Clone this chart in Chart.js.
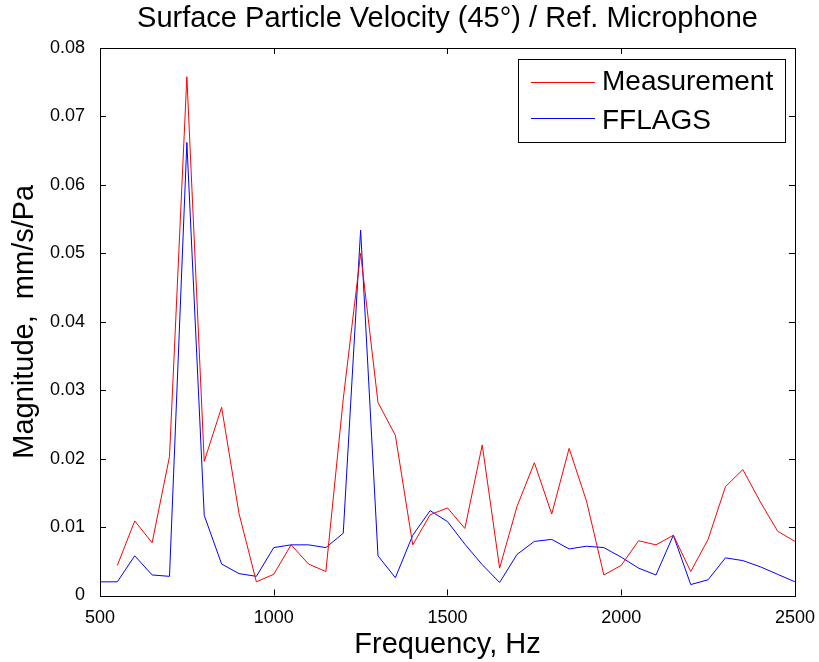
<!DOCTYPE html>
<html>
<head>
<meta charset="utf-8">
<script src="https://cdn.jsdelivr.net/npm/chart.js@4"></script>
<style>
  html, body { margin: 0; padding: 0; background: #fff; }
  #wrap { width: 819px; height: 662px; }
</style>
</head>
<body>
<div id="wrap"><canvas id="chart" width="819" height="662"></canvas></div>
<script>
/* frequency steps, Hz */
const freqs = [500, 550, 600, 650, 700, 750, 800, 850, 900, 950,
  1000, 1050, 1100, 1150, 1200, 1250, 1300, 1350, 1400, 1450,
  1500, 1550, 1600, 1650, 1700, 1750, 1800, 1850, 1900, 1950,
  2000, 2050, 2100, 2150, 2200, 2250, 2300, 2350, 2400, 2450, 2500];

const measurement = [null, 0.0044, 0.0109, 0.0077, 0.0203, 0.0758, 0.0196, 0.0275, 0.0120, 0.0020,
  0.0031, 0.0074, 0.0046, 0.0035, 0.0287, 0.0500, 0.0282, 0.0234, 0.0074, 0.0118,
  0.0128, 0.0098, 0.0220, 0.0040, 0.0130, 0.0194, 0.0119, 0.0215, 0.0138, 0.0030,
  0.0044, 0.0080, 0.0074, 0.0088, 0.0035, 0.0082, 0.0159, 0.0184, 0.0137, 0.0094, 0.0079];

const fflags = [0.0020, 0.0020, 0.0058, 0.0030, 0.0028, 0.0662, 0.0117, 0.0046, 0.0032, 0.0028,
  0.0070, 0.0074, 0.0074, 0.0070, 0.0091, 0.0534, 0.0058, 0.0026, 0.0088, 0.0124,
  0.0108, 0.0075, 0.0045, 0.0019, 0.0060, 0.0079, 0.0082, 0.0068, 0.0072, 0.0070,
  0.0056, 0.0040, 0.0030, 0.0088, 0.0016, 0.0023, 0.0055, 0.0051, 0.0042, 0.0031, 0.0020];

const xTicks = [500, 1000, 1500, 2000, 2500];
const yTicks = [0, 0.01, 0.02, 0.03, 0.04, 0.05, 0.06, 0.07, 0.08];

const FONT = 'Liberation Sans, Arial, sans-serif';

function toPoints(ys) {
  return freqs.map((f, i) => ({ x: f, y: ys[i] }));
}

/* box around plot area with inward tick marks, like the original */
const frameTicks = {
  id: 'frameTicks',
  afterDatasetsDraw(chart) {
    const { ctx, chartArea: a, scales } = chart;
    const len = 6;
    ctx.save();
    ctx.strokeStyle = '#000';
    ctx.lineWidth = 1;
    ctx.beginPath();
    xTicks.forEach(v => {
      const px = Math.round(scales.x.getPixelForValue(v)) + 0.5;
      ctx.moveTo(px, a.bottom); ctx.lineTo(px, a.bottom - len);
      ctx.moveTo(px, a.top); ctx.lineTo(px, a.top + len);
    });
    yTicks.forEach(v => {
      const py = Math.round(scales.y.getPixelForValue(v)) + 0.5;
      ctx.moveTo(a.left, py); ctx.lineTo(a.left + len, py);
      ctx.moveTo(a.right, py); ctx.lineTo(a.right - len, py);
    });
    ctx.stroke();
    ctx.strokeRect(Math.round(a.left) + 0.5, Math.round(a.top) + 0.5,
      Math.round(a.right - a.left), Math.round(a.bottom - a.top));
    ctx.restore();
  }
};

/* legend box in the upper right corner of the plot */
const boxLegend = {
  id: 'boxLegend',
  afterDraw(chart) {
    const { ctx, chartArea: a } = chart;
    const right = a.right - 10, top = a.top + 11;
    const w = 267, h = 83;
    ctx.save();
    ctx.fillStyle = '#fff';
    ctx.fillRect(right - w, top, w, h);
    ctx.strokeStyle = '#000';
    ctx.lineWidth = 1;
    ctx.strokeRect(Math.round(right - w) + 0.5, Math.round(top) + 0.5, w, h);
    ctx.font = '28px ' + FONT;
    ctx.textBaseline = 'middle';
    chart.data.datasets.forEach((ds, i) => {
      const y = top + 22.5 + i * 36.6;
      ctx.strokeStyle = ds.borderColor;
      ctx.beginPath();
      ctx.moveTo(right - w + 13, Math.round(y) + 0.5);
      ctx.lineTo(right - w + 77, Math.round(y) + 0.5);
      ctx.stroke();
      ctx.fillStyle = '#000';
      ctx.fillText(ds.label, right - w + 84, y + 1 + i * 2);
    });
    ctx.restore();
  }
};

new Chart(document.getElementById('chart'), {
  type: 'line',
  data: {
    datasets: [
      { label: 'Measurement', data: toPoints(measurement), borderColor: '#ff0000',
        borderWidth: 1, pointRadius: 0, tension: 0, fill: false, spanGaps: false },
      { label: 'FFLAGS', data: toPoints(fflags), borderColor: '#0000ff',
        borderWidth: 1, pointRadius: 0, tension: 0, fill: false }
    ]
  },
  options: {
    responsive: false,
    animation: false,
    layout: { padding: { left: 0, right: 24, top: 0, bottom: 0 } },
    plugins: {
      legend: { display: false },
      tooltip: { enabled: false },
      title: {
        display: true,
        fullSize: false,
        text: 'Surface Particle Velocity (45°) / Ref. Microphone',
        color: '#000',
        font: { family: FONT, size: 29, weight: 'normal' },
        padding: { top: 2, bottom: 11.2 }
      }
    },
    scales: {
      x: {
        type: 'linear',
        min: 500, max: 2500,
        afterBuildTicks: s => { s.ticks = xTicks.map(v => ({ value: v })); },
        afterFit: s => { s.height = 66.5; },
        grid: { display: false },
        border: { display: false },
        ticks: { color: '#000', font: { family: FONT, size: 18 }, padding: 4, maxRotation: 0,
          callback: v => String(v) },
        title: {
          display: true, text: 'Frequency, Hz', color: '#000',
          font: { family: FONT, size: 29 }, padding: { top: 0, bottom: 0 }
        }
      },
      y: {
        min: 0, max: 0.08,
        afterBuildTicks: s => { s.ticks = yTicks.map(v => ({ value: v })); },
        afterFit: s => { s.width = 100; },
        grid: { display: false },
        border: { display: false },
        ticks: { color: '#000', font: { family: FONT, size: 18 }, padding: 7,
          callback: v => String(+v.toFixed(2)) },
        title: {
          display: true, text: 'Magnitude,  mm/s/Pa', color: '#000',
          font: { family: FONT, size: 29 }, padding: { top: 8, bottom: 0 }
        }
      }
    }
  },
  plugins: [frameTicks, boxLegend]
});
</script>
</body>
</html>
